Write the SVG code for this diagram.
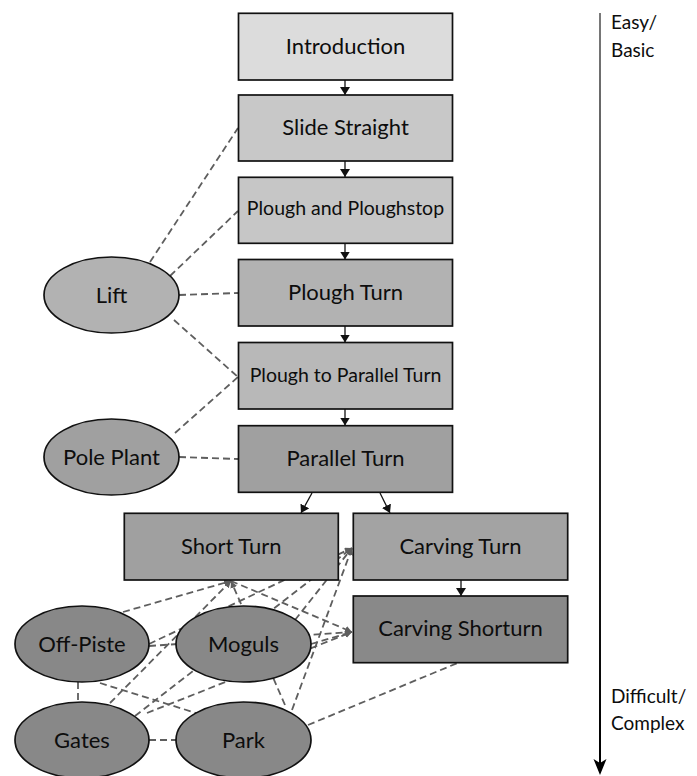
<svg xmlns="http://www.w3.org/2000/svg" width="697" height="776" viewBox="0 0 697 776">
  <defs>
    <style>
      .box { stroke: #111; stroke-width: 1.7; }
      .oval { stroke: #111; stroke-width: 1.7; }
      .lbl { font-family: Lato, "Open Sans", "Liberation Sans", sans-serif; font-size: 22px; fill: #0d0d0d; text-anchor: middle; }
      .lbl.sm { font-size: 19.5px; }
      .axis-lbl { font-family: Lato, "Open Sans", "Liberation Sans", sans-serif; font-size: 19px; fill: #0d0d0d; }
      .flow { stroke: #111; stroke-width: 1.3; fill: none; marker-end: url(#head); }
      .rel { stroke: #5e5e5e; stroke-width: 1.8; stroke-dasharray: 7 4; fill: none; }
      .rel.to { marker-end: url(#relhead); }
    </style>
    <marker id="head" viewBox="0 0 8 10" markerWidth="8" markerHeight="10" refX="8" refY="5" orient="auto" markerUnits="userSpaceOnUse">
      <path d="M0,0 L8,5 L0,10 Z" fill="#111"/>
    </marker>
    <marker id="relhead" viewBox="0 0 7 7" markerWidth="7" markerHeight="7" refX="7" refY="3.5" orient="auto" markerUnits="userSpaceOnUse">
      <path d="M0,0 L7,3.5 L0,7 Z" fill="#5e5e5e"/>
    </marker>
    <linearGradient id="axisGrad" x1="0" y1="0" x2="0" y2="1">
      <stop offset="0" stop-color="#7a7a7a"/>
      <stop offset="0.6" stop-color="#222"/>
      <stop offset="1" stop-color="#000"/>
    </linearGradient>
  </defs>

  <rect width="697" height="776" fill="#fff"/>

  <!-- difficulty axis -->
  <g id="axis">
    <rect x="599" y="13" width="2" height="750" fill="url(#axisGrad)"/>
    <path d="M600,775 L593.5,759 L600,763 L606.5,759 Z" fill="#000"/>
    <text class="axis-lbl" x="611" y="29">Easy/</text>
    <text class="axis-lbl" x="611" y="57">Basic</text>
    <text class="axis-lbl" x="611" y="703">Difficult/</text>
    <text class="axis-lbl" x="611" y="730">Complex</text>
  </g>

  <!-- connectors -->
  <g id="connectors">
    <!-- learning sequence -->
    <line class="flow" x1="345" y1="80" x2="345" y2="95"/>
    <line class="flow" x1="345" y1="161" x2="345" y2="177"/>
    <line class="flow" x1="345" y1="243" x2="345" y2="259.5"/>
    <line class="flow" x1="345" y1="326" x2="345" y2="342.5"/>
    <line class="flow" x1="345" y1="409" x2="345" y2="425.5"/>
    <line class="flow" x1="312" y1="493" x2="301" y2="513"/>
    <line class="flow" x1="380" y1="493" x2="390" y2="513"/>
    <line class="flow" x1="461" y1="580" x2="461" y2="596"/>

    <!-- supporting skills -->
    <line class="rel" x1="150" y1="262" x2="238" y2="128"/>
    <line class="rel" x1="170" y1="276" x2="238" y2="211"/>
    <line class="rel" x1="179" y1="295" x2="238" y2="293"/>
    <line class="rel" x1="174" y1="320" x2="238" y2="377"/>
    <line class="rel" x1="175" y1="433" x2="238" y2="377"/>
    <line class="rel" x1="179" y1="457" x2="238" y2="459"/>

    <!-- advanced terrain -->
    <line class="rel to" x1="123" y1="612" x2="231" y2="581"/>
    <line class="rel to" x1="110" y1="703" x2="231" y2="581"/>
    <line class="rel to" x1="285" y1="705" x2="231" y2="581"/>
    <line class="rel to" x1="231" y1="581" x2="352" y2="632"/>
    <line class="rel to" x1="149" y1="644" x2="352" y2="548"/>
    <line class="rel to" x1="135" y1="716" x2="352" y2="548"/>
    <line class="rel to" x1="295" y1="620" x2="352" y2="548"/>
    <line class="rel to" x1="292" y1="710" x2="352" y2="548"/>
    <line class="rel to" x1="149" y1="646" x2="352" y2="632"/>
    <line class="rel to" x1="147" y1="713" x2="352" y2="632"/>
    <line class="rel to" x1="311" y1="644" x2="352" y2="632"/>
    <line class="rel" x1="308" y1="725" x2="460" y2="662"/>
    <line class="rel" x1="78" y1="682" x2="78" y2="703"/>
    <line class="rel" x1="149" y1="740" x2="176" y2="740"/>
    <line class="rel" x1="100" y1="683" x2="196" y2="713"/>
  </g>

  <!-- course steps -->
  <g id="introduction">
    <rect class="box" x="238.5" y="13.3" width="214" height="66.7" fill="#dcdcdc"/>
    <text class="lbl" x="345.5" y="53.5">Introduction</text>
  </g>
  <g id="slide-straight">
    <rect class="box" x="238.5" y="95" width="214" height="66" fill="#c8c8c8"/>
    <text class="lbl" x="345.5" y="135">Slide Straight</text>
  </g>
  <g id="plough-ploughstop">
    <rect class="box" x="238.5" y="177.3" width="214" height="66" fill="#c6c6c6"/>
    <text class="lbl sm" x="345.5" y="215">Plough and Ploughstop</text>
  </g>
  <g id="plough-turn">
    <rect class="box" x="238.5" y="259.5" width="214" height="66.5" fill="#b2b2b2"/>
    <text class="lbl" x="345.5" y="299.5">Plough Turn</text>
  </g>
  <g id="plough-parallel">
    <rect class="box" x="238.5" y="342.5" width="214" height="66.5" fill="#b8b8b8"/>
    <text class="lbl sm" x="345.5" y="381.5">Plough to Parallel Turn</text>
  </g>
  <g id="parallel-turn">
    <rect class="box" x="238.5" y="425.7" width="214" height="66.6" fill="#a0a0a0"/>
    <text class="lbl" x="345.5" y="465.5">Parallel Turn</text>
  </g>
  <g id="short-turn">
    <rect class="box" x="124.3" y="513.3" width="214" height="66.7" fill="#a0a0a0"/>
    <text class="lbl" x="231.3" y="553.5">Short Turn</text>
  </g>
  <g id="carving-turn">
    <rect class="box" x="353.3" y="513.3" width="214.4" height="66.7" fill="#a3a3a3"/>
    <text class="lbl" x="460.5" y="553.5">Carving Turn</text>
  </g>
  <g id="carving-shorturn">
    <rect class="box" x="353.3" y="596" width="214.4" height="66.7" fill="#898989"/>
    <text class="lbl" x="460.5" y="636">Carving Shorturn</text>
  </g>

  <!-- skills and terrain -->
  <g id="lift">
    <ellipse class="oval" cx="111.5" cy="295" rx="67.5" ry="38" fill="#b2b2b2"/>
    <text class="lbl" x="111.5" y="303">Lift</text>
  </g>
  <g id="pole-plant">
    <ellipse class="oval" cx="111.5" cy="457" rx="67.5" ry="38" fill="#a0a0a0"/>
    <text class="lbl" x="111.5" y="465">Pole Plant</text>
  </g>
  <g id="off-piste">
    <ellipse class="oval" cx="82" cy="644" rx="67" ry="38" fill="#888"/>
    <text class="lbl" x="82" y="652">Off-Piste</text>
  </g>
  <g id="moguls">
    <ellipse class="oval" cx="243.5" cy="644" rx="67.5" ry="38" fill="#888"/>
    <text class="lbl" x="243.5" y="652">Moguls</text>
  </g>
  <g id="gates">
    <ellipse class="oval" cx="82" cy="740" rx="67" ry="38" fill="#888"/>
    <text class="lbl" x="82" y="748">Gates</text>
  </g>
  <g id="park">
    <ellipse class="oval" cx="243.5" cy="740" rx="67.5" ry="38" fill="#888"/>
    <text class="lbl" x="243.5" y="748">Park</text>
  </g>
</svg>
